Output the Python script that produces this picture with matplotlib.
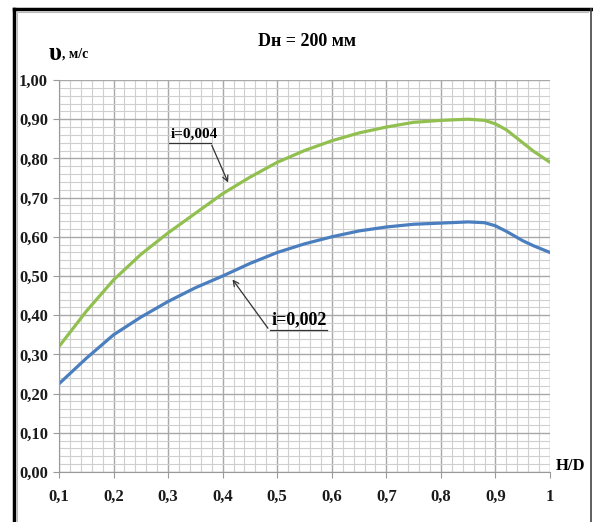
import numpy as np
import matplotlib
matplotlib.use("Agg")
import matplotlib.pyplot as plt
from matplotlib.lines import Line2D
from matplotlib.ticker import MultipleLocator, FuncFormatter

# H/D values and flow velocity (m/s)
h_d = [0.1, 0.15, 0.2, 0.25, 0.3, 0.35, 0.4, 0.45, 0.5, 0.55,
       0.6, 0.65, 0.7, 0.75, 0.8, 0.85, 0.88, 0.9, 0.92, 0.95, 0.97, 1.0]
v_i004 = [0.32, 0.41, 0.49, 0.555, 0.61, 0.66, 0.71, 0.752, 0.79, 0.82,
          0.845, 0.865, 0.88, 0.892, 0.897, 0.90, 0.897, 0.888, 0.873, 0.84, 0.818, 0.79]
v_i002 = [0.225, 0.29, 0.35, 0.395, 0.435, 0.47, 0.50, 0.532, 0.56, 0.582,
          0.60, 0.615, 0.625, 0.632, 0.635, 0.638, 0.636, 0.628, 0.614, 0.59, 0.577, 0.56]

x_ticks = [0.1, 0.2, 0.3, 0.4, 0.5, 0.6, 0.7, 0.8, 0.9, 1.0]
x_labels = ["0,1", "0,2", "0,3", "0,4", "0,5", "0,6", "0,7", "0,8", "0,9", "1"]

serif = "Liberation Serif"

fig = plt.figure(figsize=(5.93, 5.22), dpi=100)
ax = fig.add_axes([59 / 593, 1 - 472 / 522, 491 / 593, 392 / 522])

ax.plot(h_d, v_i004, color="#92c050", lw=2.3, solid_capstyle="round", solid_joinstyle="round")
ax.plot(h_d, v_i002, color="#4a7ebf", lw=2.3, solid_capstyle="round", solid_joinstyle="round")

ax.set_xlim(0.1, 1.0)
ax.set_ylim(0.0, 1.0)
ax.xaxis.set_minor_locator(MultipleLocator(0.02))
ax.yaxis.set_major_locator(MultipleLocator(0.1))
ax.yaxis.set_minor_locator(MultipleLocator(0.02))
ax.set_xticks(x_ticks)
ax.set_xticklabels(x_labels)
ax.yaxis.set_major_formatter(FuncFormatter(lambda v, p: f"{v:.2f}".replace(".", ",")))

ax.grid(which="major", color="#a8a8a8", lw=1.0)
ax.grid(which="minor", color="#cfcfcf", lw=0.8)
ax.set_axisbelow(True)
for side in ["top", "right"]:
    ax.spines[side].set_visible(False)
for side in ["left", "bottom"]:
    ax.spines[side].set_color("#9a9a9a")
ax.tick_params(which="major", direction="out", length=4, color="#9a9a9a")
ax.tick_params(axis="x", pad=8)
ax.tick_params(axis="y", pad=4)
ax.tick_params(which="minor", length=0)
for lab in ax.get_xticklabels() + ax.get_yticklabels():
    lab.set_fontfamily(serif)
    lab.set_fontweight("bold")
    lab.set_fontsize(12)
    lab.set_color("#1a1a1a")

# annotations with leader lines
ax.annotate("", xy=(0.412, 0.732), xytext=(0.378, 0.84),
            arrowprops=dict(arrowstyle="->", color="#333333", lw=0.9))
ax.plot([0.302, 0.378], [0.84, 0.84], color="#333333", lw=0.9)
ax.text(0.304, 0.845, "i=0,004", fontfamily=serif, fontweight="bold",
        fontsize=11, va="bottom", ha="left")

ax.annotate("", xy=(0.415, 0.497), xytext=(0.486, 0.361),
            arrowprops=dict(arrowstyle="->", color="#333333", lw=0.9))
ax.plot([0.486, 0.591], [0.361, 0.361], color="#333333", lw=0.9)
ax.text(0.49, 0.366, "i=0,002", fontfamily=serif, fontweight="bold",
        fontsize=13, va="bottom", ha="left")

# titles and axis captions
fig.text(307 / 593, 1 - 42 / 522, "Dн = 200 мм", fontfamily=serif,
         fontweight="bold", fontsize=13, ha="center", va="center")
fig.text(49 / 593, 1 - 53 / 522, "υ", fontfamily=serif, fontweight="bold",
         fontsize=18, ha="left", va="center")
fig.text(62 / 593, 1 - 54 / 522, ", м/с", fontfamily=serif, fontweight="bold",
         fontsize=10, ha="left", va="center")
fig.text(556 / 593, 1 - 466 / 522, "H/D", fontfamily=serif, fontweight="bold",
         fontsize=12, ha="left", va="center")

# outer frame
fig.add_artist(Line2D([14 / 593, 14 / 593], [0, 1 - 9 / 522], color="black", lw=2.5,
                      transform=fig.transFigure))
fig.add_artist(Line2D([14 / 593, 591 / 593], [1 - 9 / 522, 1 - 9 / 522], color="black",
                      lw=2.5, transform=fig.transFigure))
fig.add_artist(Line2D([591 / 593, 591 / 593], [0, 1 - 9 / 522], color="#444444", lw=1.2,
                      transform=fig.transFigure))
fig.add_artist(Line2D([17 / 593, 17 / 593], [0, 1 - 12 / 522], color="#bbbbbb", lw=0.8,
                      transform=fig.transFigure))
fig.add_artist(Line2D([17 / 593, 588 / 593], [1 - 12 / 522, 1 - 12 / 522], color="#bbbbbb",
                      lw=0.8, transform=fig.transFigure))

fig.savefig("out.png", dpi=100)
